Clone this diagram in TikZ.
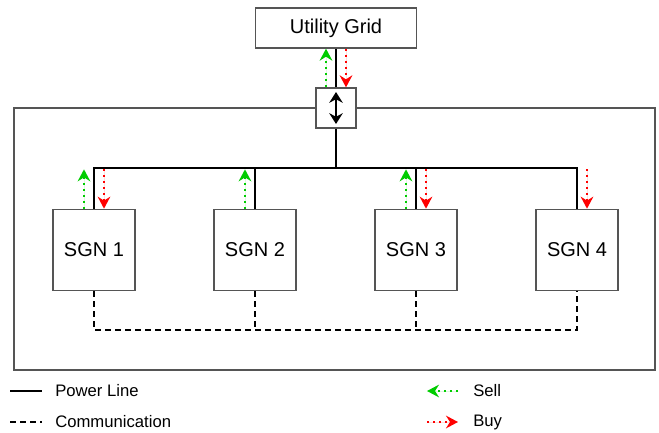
\documentclass[tikz,border=0pt]{standalone}
\usepackage{fontspec}
\setmainfont{Liberation Sans}
\usetikzlibrary{arrows.meta}
\definecolor{boxgray}{HTML}{555555}
\definecolor{sellgreen}{HTML}{00CC00}
\definecolor{buyred}{HTML}{FF0000}

\begin{document}
\begin{tikzpicture}[x=0.75pt,y=-0.75pt,
    unit/.style={draw=boxgray,line width=1pt,fill=white,font=\fontsize{15}{18}\selectfont},
    power/.style={line width=1.5pt},
    comm/.style={line width=1.5pt,dash pattern=on 4.5pt off 3pt},
    trade/.style={line width=1.5pt,dash pattern=on 1.5pt off 3pt,
      -{Stealth[length=9pt,width=9.5pt,inset=3pt]}},
    sell/.style={trade,draw=sellgreen,fill=sellgreen},
    buy/.style={trade,draw=buyred,fill=buyred},
    legend/.style={anchor=west,inner sep=0pt,font=\fontsize{12.5}{15}\selectfont}]
        \def\d{7.5pt} % 矢印のずらし幅
        \useasboundingbox (0,0) rectangle (659,432);

        % 枠
        \draw[draw=boxgray,line width=1pt] (14,108) rectangle (655,370);

        % ノード
        \node[unit,minimum width=120.75pt,minimum height=30pt] (grid) at (336,28) {Utility Grid};
        \node[unit,minimum width=30pt,minimum height=30pt] (sw) at (336,108) {};
        \foreach \n/\x in {1/94,2/255,3/416,4/577}
          \node[unit,minimum width=61.5pt,minimum height=61pt] (s\n) at (\x,250) {SGN \n};
        \coordinate (bus) at (336,168);
        \coordinate (cbus) at (336,330);

        % 電力線
        \draw[power] (grid.south) -- (sw.north);
        \draw[power] (sw.south) -- (bus);
        \draw[power] (s1.north) |- (bus) -| (s4.north);
        \foreach \n in {2,3}
          \draw[power] (s\n.north) -- (s\n.north |- bus);
        \draw[{Stealth[length=8pt,width=10pt,inset=2.5pt]}-{Stealth[length=8pt,width=10pt,inset=2.5pt]},line width=1.5pt]
          ([yshift=-3.5pt]sw.north) -- ([yshift=3.5pt]sw.south);

        % 通信
        \draw[comm] (s1.south) |- (cbus) -| (s4.south);
        \foreach \n in {2,3}
          \draw[comm] (s\n.south) -- (s\n.south |- cbus);

        % 売買
        \draw[sell] ([xshift=-\d]sw.north) -- ([xshift=-\d]grid.south);
        \draw[buy] ([xshift=\d]grid.south) -- ([xshift=\d]sw.north);
        \foreach \n in {1,2,3}
          \draw[sell] ([xshift=-\d]s\n.north) -- ([xshift=-\d,yshift=-1pt]s\n.north |- bus);
        \foreach \n in {1,3,4}
          \draw[buy] ([xshift=\d,yshift=-1pt]s\n.north |- bus) -- ([xshift=\d]s\n.north);

        % 凡例
        \node[legend] (lpower) at (55,391) {Power Line};
        \node[legend] (lcomm) at (55,422) {Communication};
        \node[legend] (lsell) at (473,391) {Sell};
        \node[legend] (lbuy) at (473,422) {Buy};
        \coordinate (p1) at (10,391);  \coordinate (p2) at (42,391);
        \coordinate (c1) at (10,422);  \coordinate (c2) at (42,422);
        \coordinate (g1) at (458,391); \coordinate (g2) at (427,391);
        \coordinate (r1) at (427,422); \coordinate (r2) at (458,422);
        \draw[power] (p1) -- (p2);
        \draw[comm] (c1) -- (c2);
        \draw[sell] (g1) -- (g2);
        \draw[buy] (r1) -- (r2);
      \end{tikzpicture}
\end{document}
